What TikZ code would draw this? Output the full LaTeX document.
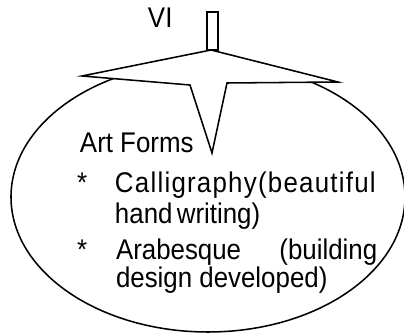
\documentclass[tikz,border=0pt]{standalone}
\usepackage{fontspec}
\setmainfont{Liberation Sans}
\usetikzlibrary{positioning}
\newcommand\tall[1]{\scalebox{1}[1.1]{#1}}

\begin{document}
\begin{tikzpicture}[
  x=0.025cm, y=-0.025cm,
  outline/.style={draw=black, line width=1.1pt, line join=miter},
  txt/.style={anchor=base west, inner sep=0pt, outer sep=0pt, font=\fontsize{18.4}{22}\selectfont},
]
\useasboundingbox (0,0) rectangle (404,333);

% Bubble
\draw[outline] (208,197) ellipse [x radius=197, y radius=135];

% Star callout
\draw[outline, fill=white]
  (211,50) -- (338,82) -- (227,83) -- (212,153) -- (190,85) -- (82,76) -- cycle;

% Stem
\draw[outline, fill=white] (207,12) rectangle (218,50);

% Labels
\node[txt] (num) at (148,28) {\tall{VI}};
\node[txt] (title) at (80,153) {\tall{Art Forms}};

\node[txt] (bulA) at (77,193) {\tall{*}};
\node[txt] (itemA1) at (115,193) {\tall{\addfontfeature{LetterSpace=4.8}Calligraphy(beautiful}};
\node[txt] (itemA2) at (115,224) {\tall{hand\,writing)}};

\node[txt] (bulB) at (77,260) {\tall{*}};
\node[txt] (itemB1) at (116,260) {\tall{\makebox[6.53cm][s]{Arabesque\hfill(building}}};
\node[txt] (itemB2) at (116,288) {\tall{design developed)}};

\end{tikzpicture}
\end{document}
